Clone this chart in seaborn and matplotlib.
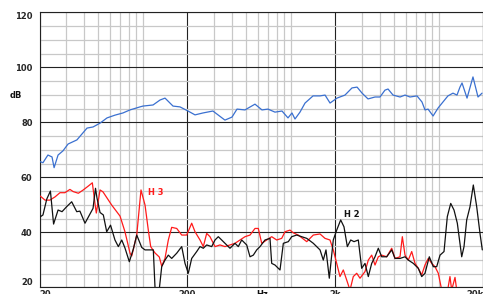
import numpy as np
import pandas as pd
import matplotlib
matplotlib.use("Agg")
import matplotlib.pyplot as plt
import matplotlib.transforms as mtransforms
import seaborn as sns

# ---------------- data (Hz, dB) ----------------
fund_freq = [20.2, 21.1, 22.8, 24.3, 25.1, 26.7, 28.8, 31.2, 35.8, 41.9, 46.0, 51.3, 57.2,
             64.7, 73.3, 81.7, 95.5, 100, 117, 130.4, 141, 159.6, 178, 201.6, 224.8, 254.6,
             297, 358, 399.7, 432, 489, 571.5, 637, 700, 780, 870, 955, 1016, 1065, 1151,
             1245, 1410, 1572, 1700, 1837, 2047, 2318, 2585, 2797, 3024, 3317, 3699, 3996,
             4318, 4528, 4896, 5459, 5902, 6373, 7108, 7678, 8050, 8440, 9129, 9868, 10650,
             11500, 12440, 13240, 13870, 14320, 15480, 16980, 18360, 19550]
fund_db = [65.7, 65.3, 68.1, 67.4, 63.5, 68.1, 69.6, 72.1, 73.6, 77.9, 78.3, 79.7, 81.6,
           82.6, 83.4, 84.5, 85.6, 85.9, 86.3, 88.1, 88.8, 85.9, 85.6, 84.1, 82.7, 83.4,
           84.1, 80.8, 81.9, 84.8, 84.5, 86.6, 84.5, 84.8, 83.7, 84.1, 81.6, 83.4, 81.2, 83.7,
           87.0, 89.6, 89.6, 89.9, 87.0, 88.8, 89.9, 92.5, 92.8, 90.6, 88.5, 89.2, 89.2,
           91.7, 92.1, 89.9, 89.2, 89.9, 89.2, 89.6, 87.4, 84.5, 84.8, 82.3, 85.2, 87.4,
           89.6, 90.6, 89.9, 92.8, 94.3, 88.8, 96.5, 89.2, 90.6]

h3_freq = [20.2, 21.8, 23.5, 25.5, 27.5, 29.7, 32.1, 33.8, 36.6, 39.5, 42.7, 45.5, 47.4,
           48.4, 51.3, 53.7, 61.5, 70.0, 75.6, 81.8, 84.0, 90.8, 97.0, 103.3, 108.7, 112.8,
           120.6, 129, 133.9, 140.9, 148.4, 156.4, 169.1, 182.8, 197.5, 213.5, 224.8, 243,
           255.8, 269.6, 283.8, 306.8, 331.6, 358.4, 387.4, 418.8, 452.6, 489.3, 528.9,
           571.7, 601.8, 634.4, 685.7, 741.2, 801.2, 866, 911.8, 985.6, 1037.6, 1121, 1278,
           1416, 1572, 1698, 1836, 1932, 2038, 2145, 2258, 2382, 2506, 2638, 2782, 2928,
           3165, 3332, 3513, 3698, 3893, 4104, 4436, 4795, 5048, 5457, 5657, 5898, 6208,
           6546, 6891, 7253, 7646, 8049, 8472, 8934, 9403, 9898, 10440, 11160, 11870,
           12190, 12840, 13240, 13880]
h3_db = [53.2, 51.7, 51.7, 52.9, 54.4, 54.4, 55.6, 54.8, 54.2, 55.4, 56.8, 58.0, 50.5,
         47.0, 55.4, 54.7, 49.9, 45.9, 40.2, 32.4, 31.4, 39.0, 55.4, 49.9, 40.8, 34.8,
         32.5, 31.0, 27.7, 30.5, 37.2, 41.8, 41.4, 39.0, 39.0, 43.3, 40.2, 37.2,
         34.8, 39.6, 38.4, 34.8, 35.4, 34.8, 35.4, 36.0, 37.2, 38.4, 39.0,
         41.4, 41.4, 36.0, 37.2, 38.4, 37.2, 37.8, 40.2, 40.8, 39.8, 39.0, 36.6,
         39.0, 39.4, 37.8, 37.2, 33.6, 28.7, 23.9, 26.3, 22.6, 19.0, 23.9, 25.1, 23.3,
         25.7, 29.9, 31.7, 28.1, 31.1, 31.7, 31.1, 34.2, 30.5, 31.1, 38.4, 31.7, 29.9,
         33.0, 28.7, 26.9, 24.5, 28.1, 30.5, 28.7, 27.5, 25.1, 19.0, 15.4, 23.9,
         19.0, 23.6, 18.3, 15.4]

h2_freq = [20.2, 21.1, 22.4, 23.7, 24.9, 26.7, 28.4, 30.5, 33.0, 35.7, 37.5, 40.6, 43.5,
           46.0, 47.8, 48.9, 51.3, 54.0, 56.9, 60.4, 64.7, 68.2, 71.9, 75.6, 80.9, 86.1,
           90.8, 98.1, 103.3, 108.7, 117.5, 120.6, 123.5, 127, 129.4, 133.9, 140.9, 148.4,
           156.4, 169.1, 182.8, 192.4, 202.5, 213.5, 230.8, 243, 255.8, 269.6, 291.4,
           306.8, 323, 340.4, 358.4, 387.4, 418.8, 440.8, 464.8, 502.4, 528.9, 556.8, 587,
           618, 667.8, 721.8, 741.2, 780.2, 843.4, 888.2, 959.8, 1012, 1093, 1182, 1278,
           1416, 1572, 1654, 1725, 1816, 1932, 2038, 2168, 2282, 2404, 2534, 2668, 2852,
           3006, 3165, 3332, 3513, 3698, 3893, 4104, 4436, 4795, 5048, 5457, 5898, 6208,
           6710, 7253, 7646, 8049, 8606, 9160, 9658, 10170, 10820, 11390, 12010, 12640,
           13310, 14250, 14770, 15400, 16210, 17070, 17990, 18940, 19630]
h2_db = [45.6, 46.3, 52.1, 55.0, 43.0, 48.1, 47.5, 49.3, 51.1, 47.5, 47.7, 43.3, 46.3,
         48.7, 56.0, 52.5, 47.2, 46.3, 40.2, 42.6, 37.2, 34.8, 37.2, 34.3, 29.3, 33.9,
         39.0, 34.5, 33.6, 33.6, 33.6, 20.1, 15.4, 15.4, 20.1, 27.5, 29.9, 31.7,
         30.5, 32.4, 34.8, 28.7, 25.1, 30.5, 33.0, 34.8, 34.2, 35.4, 34.8,
         37.2, 38.4, 37.2, 36.0, 34.2, 36.0, 34.8, 37.2, 35.4, 31.1, 31.7, 33.6,
         34.8, 37.2, 37.8, 28.7, 28.1, 26.3, 36.0, 36.6, 38.4, 39.0, 38.4, 37.8,
         36.0, 33.6, 29.9, 33.6, 23.3, 37.2, 40.8, 44.5, 42.0, 34.8, 37.2, 36.6, 37.2,
         26.9, 28.7, 23.9, 28.7, 31.1, 34.2, 31.1, 31.1, 33.6, 30.5, 30.5, 31.1, 29.9,
         28.7, 26.9, 23.9, 25.1, 31.1, 27.5, 27.5, 31.7, 33.0, 45.7, 50.5, 48.1,
         43.3, 31.1, 34.8, 44.5, 49.3, 57.2, 49.3, 39.6, 33.6]

x_major = [20, 200, 2000, 20000]
x_major_labels = ["20", "200", "2k", "20k"]
y_major = [20, 40, 60, 80, 100, 120]
y_major_labels = ["20", "40", "60", "80", "100", "120"]

# ---------------- figure ----------------
sns.set_style("white")
plt.rcParams['font.family'] = ['DejaVu Sans']

W, H = 483, 294
fig = plt.figure(figsize=(W / 100, H / 100), dpi=100)
ax = fig.add_axes([39.5 / W, (H - 287.3) / H, 444 / W, 275 / H])

df_f = pd.DataFrame({"f": fund_freq, "db": fund_db})
df_3 = pd.DataFrame({"f": h3_freq, "db": h3_db})
df_2 = pd.DataFrame({"f": h2_freq, "db": h2_db})

sns.lineplot(data=df_f, x="f", y="db", ax=ax, color="#3a70d0", lw=0.9,
             estimator=None, sort=False, zorder=5)
sns.lineplot(data=df_3, x="f", y="db", ax=ax, color="#ff1a1a", lw=0.9,
             estimator=None, sort=False, zorder=4)
sns.lineplot(data=df_2, x="f", y="db", ax=ax, color="#111111", lw=0.9,
             estimator=None, sort=False, zorder=6)

ax.set_xscale("log")
ax.set_xlim(20, 20000)
ax.set_ylim(20, 120)

minor_x = [m * 10 ** e for e in range(1, 5) for m in range(1, 10)
           if 20 < m * 10 ** e < 20000 and m * 10 ** e not in x_major]
ax.set_xticks(x_major)
ax.set_xticklabels(x_major_labels)
ax.set_xticks(minor_x, minor=True)
ax.set_xticklabels([], minor=True)
ax.set_yticks(y_major)
ax.set_yticklabels(y_major_labels)
ax.set_yticks([v for v in range(25, 120, 5) if v % 20], minor=True)

ax.set_axisbelow(True)
ax.grid(which="minor", color="#c8c8c8", lw=0.9)
ax.grid(which="major", color="#222222", lw=0.8)

for s in ax.spines.values():
    s.set_visible(True)
    s.set_color("#222222")
    s.set_linewidth(0.8)

ax.tick_params(axis="both", which="both", length=0)
ax.tick_params(axis="x", pad=2.0, labelsize=6)
ax.tick_params(axis="y", pad=5.0, labelsize=6)
for lab in ax.get_xticklabels() + ax.get_yticklabels():
    lab.set_fontweight("bold")
xl = ax.get_xticklabels()
xl[0].set_ha("left")
xl[-1].set_ha("right")
yl = ax.get_yticklabels()
yl[0].set_va("bottom")
yl[-1].set_va("top")

ax.set_xlabel("")
ax.set_ylabel("")

# "Hz" unit label among tick labels
trans = mtransforms.blended_transform_factory(ax.transData, ax.transAxes)
offset = mtransforms.ScaledTranslation(0, -2.0 / 72, fig.dpi_scale_trans)
ax.text(637, 0, "Hz", transform=trans + offset, ha="center", va="top",
        fontsize=6, fontweight="bold", color="#111111")

# "dB" label
fig.text(15.5 / W, 1 - 95 / H, "dB", ha="center", va="center", fontsize=6,
         fontweight="bold", color="#111111")

# curve labels
ax.text(108, 54.3, "H 3", color="#ff1a1a", fontsize=6, fontweight="bold",
        ha="left", va="center")
ax.text(2280, 46.6, "H 2", color="#111111", fontsize=6, fontweight="bold",
        ha="left", va="center")

fig.savefig("out.png", dpi=100, facecolor="white")
